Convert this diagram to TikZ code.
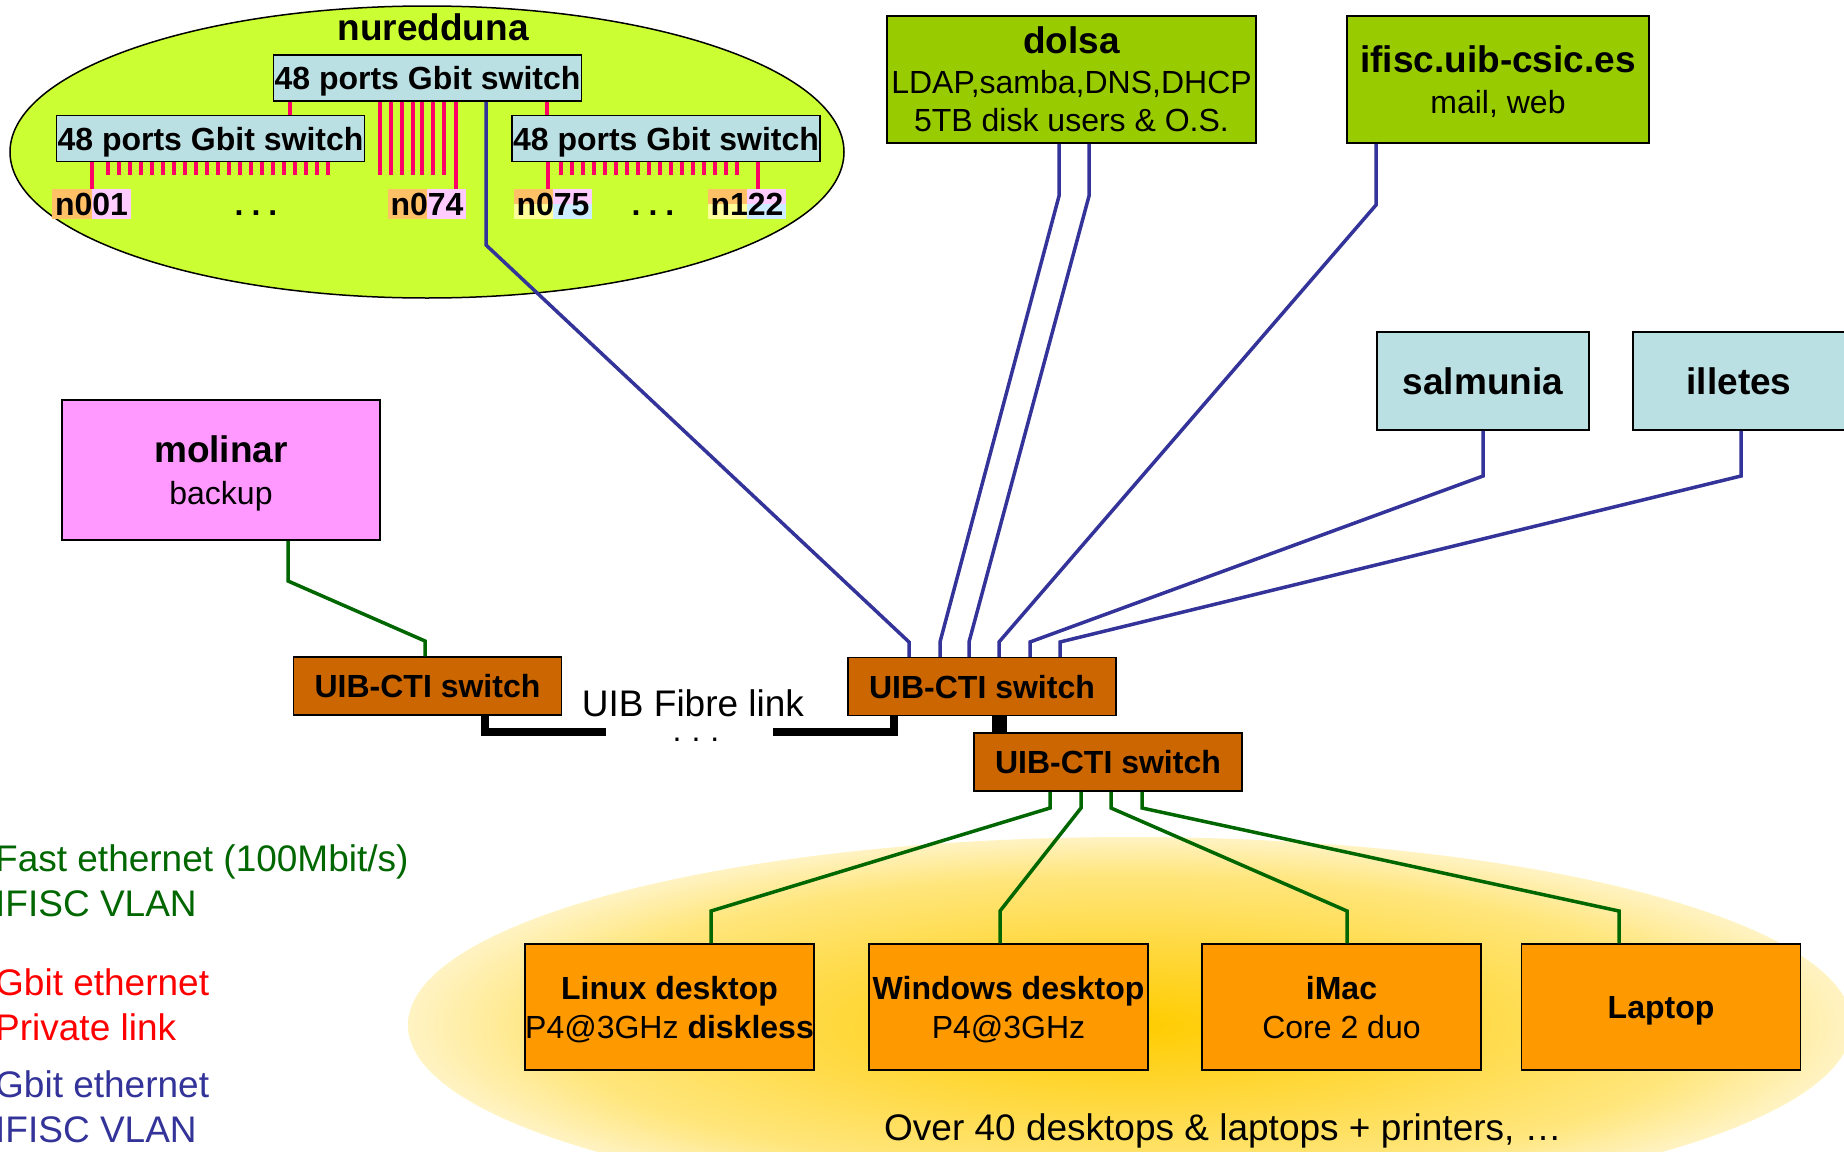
\documentclass[tikz,border=0pt]{standalone}
\usepackage{fontspec}
\setmainfont{Liberation Sans}
\usetikzlibrary{shapes.geometric}
\usepackage{xcolor}
\definecolor{clustergreen}{RGB}{204,255,51}
\definecolor{switchblue}{RGB}{187,224,227}
\definecolor{servergreen}{RGB}{153,204,0}
\definecolor{backuppink}{RGB}{255,153,255}
\definecolor{ctibrown}{RGB}{204,102,0}
\definecolor{pcorange}{RGB}{255,153,0}
\definecolor{gbitblue}{RGB}{51,51,153}
\definecolor{fastgreen}{RGB}{0,102,0}
\definecolor{privred}{RGB}{255,0,102}
\definecolor{labelorange}{RGB}{255,192,102}
\definecolor{labelpink}{RGB}{255,204,255}
\definecolor{labelyellow}{RGB}{255,255,153}
\definecolor{labelblue}{RGB}{204,236,255}
\definecolor{glowgold}{RGB}{255,204,0}
\definecolor{glowmid}{RGB}{255,216,60}
\definecolor{glowlight}{RGB}{255,230,125}
\definecolor{glowpale}{RGB}{255,243,195}
\pgfdeclareradialshading{glow}{\pgfpoint{0bp}{0bp}}{%
  color(0bp)=(glowgold); color(10bp)=(glowmid); color(20bp)=(glowlight);
  color(25bp)=(glowpale); color(50bp)=(glowpale)}

\begin{document}
\begin{tikzpicture}[x=1pt,y=-1pt]
  \tikzset{
    cluster/.style={
      ellipse,
      draw,
      line width=1.5pt,
      fill=clustergreen,
      minimum width=834pt,
      minimum height=292pt,
      inner sep=0pt
    },
    gswitch/.style={
      draw,
      line width=1.5pt,
      fill=switchblue,
      minimum width=308pt,
      minimum height=46pt,
      inner sep=0pt,
      text depth=-1pt,
      font=\fontsize{32}{38}\selectfont\bfseries
    },
    nlabel/.style={
      fill=labelorange,
      inner xsep=3pt,
      inner ysep=0pt,
      minimum height=30pt,
      text depth=-3pt,
      font=\fontsize{32}{38}\selectfont\bfseries
    },
    twotone/.style={
      nlabel,
      path picture={
        \fill[labelpink] (path picture bounding box.south) rectangle (path picture bounding box.north east);
      }
    },
    fourtone/.style={
      nlabel,
      path picture={
        \fill[labelyellow] (path picture bounding box.south west) rectangle (path picture bounding box.center);
        \fill[labelpink] (path picture bounding box.center) rectangle (path picture bounding box.north east);
        \fill[labelblue] (path picture bounding box.south) rectangle (path picture bounding box.east);
      }
    },
    server/.style={
      draw,
      line width=1.5pt,
      align=center,
      inner sep=0pt,
      text depth=-11pt,
      font=\fontsize{32}{38}\selectfont
    },
    ctiswitch/.style={
      draw,
      line width=1.5pt,
      fill=ctibrown,
      minimum width=268pt,
      minimum height=58pt,
      text depth=-2pt,
      font=\fontsize{32}{38}\selectfont\bfseries
    },
    desktop/.style={
      draw,
      line width=1.5pt,
      fill=pcorange,
      minimum width=279pt,
      minimum height=126pt,
      inner sep=0pt,
      align=center,
      text depth=-10pt,
      font=\fontsize{32}{39}\selectfont
    },
    headline/.style={
      font=\fontsize{37}{44}\selectfont\bfseries
    },
    caption/.style={
      font=\fontsize{37}{44}\selectfont
    },
    legend/.style={
      anchor=west,
      align=left,
      inner sep=0pt,
      font=\fontsize{37}{45}\selectfont
    },
    privlink/.style={privred, line width=3.5pt},
    gbitlink/.style={gbitblue, line width=3.5pt},
    fastlink/.style={fastgreen, line width=3.5pt},
    fibre/.style={black, line width=8pt}
  }
  \useasboundingbox (0,0) rectangle (1844,1151);

  % Glow behind the desktops
  \shade[shading=glow] (1130,1025) ellipse [x radius=722pt, y radius=188pt];

  % Cluster
  \node[cluster] (nuredduna) at (427,152) {};
  \node[headline] (clustername) at (433,27) {nuredduna};
  \node[gswitch] (gswT) at (427.5,78) {48 ports Gbit switch};
  \node[gswitch] (gswL) at (210.5,138.5) {48 ports Gbit switch};
  \node[gswitch] (gswR) at (666,138.5) {48 ports Gbit switch};

  \node[twotone] (n001) at (91.5,204) {n001};
  \node[twotone] (n074) at (427,204) {n074};
  \node[fourtone] (n075) at (553,204) {n075};
  \node[fourtone] (n122) at (747,204) {n122};
  \node[font=\fontsize{32}{38}\selectfont\bfseries] (dotsL) at (256,213) {.\kern8pt.\kern8pt.};
  \node[font=\fontsize{32}{38}\selectfont\bfseries] (dotsR) at (653,213) {.\kern8pt.\kern8pt.};

  % Private links inside the cluster
  \draw[privlink] (gswT.south -| 290,0) -- (gswL.north -| 290,0);
  \draw[privlink] (gswT.south -| 547,0) -- (gswR.north -| 547,0);
  \draw[privlink] (gswL.south -| 92,0) -- (n001.north -| 92,0);
  \draw[privlink] (gswT.south -| 456,0) -- (n074.north -| 456,0);
  \draw[privlink] (gswR.south -| 548,0) -- (n075.north -| 548,0);
  \draw[privlink] (gswR.south -| 758,0) -- (n122.north -| 758,0);
  \foreach \x in {108,119,...,335}
    \draw[privlink] (gswL.south -| \x,0) -- (\x,175);
  \foreach \x in {380,391,402,413,422,433,444}
    \draw[privlink] (gswT.south -| \x,0) -- (\x,175);
  \foreach \x in {561,572,...,743}
    \draw[privlink] (gswR.south -| \x,0) -- (\x,175);

  % Servers
  \node[server, fill=servergreen, minimum width=369pt, minimum height=127pt] (dolsa) at (1071.5,79.5)
    {{\fontsize{37}{44}\selectfont\bfseries dolsa}\\[2pt]LDAP,samba,DNS,DHCP\\5TB disk users \& O.S.};
  \node[server, fill=servergreen, minimum width=302pt, minimum height=127pt] (ifisc) at (1498,79.5)
    {{\fontsize{37}{44}\selectfont\bfseries ifisc.uib-csic.es}\\[3pt]mail, web};
  \node[server, fill=switchblue, minimum width=212pt, minimum height=98pt] (salmunia) at (1483,381)
    {{\fontsize{37}{44}\selectfont\bfseries salmunia}};
  \node[server, fill=switchblue, minimum width=212pt, minimum height=98pt] (illetes) at (1739,381)
    {{\fontsize{37}{44}\selectfont\bfseries illetes}};
  \node[server, fill=backuppink, minimum width=318pt, minimum height=140pt] (molinar) at (221,470)
    {{\fontsize{37}{44}\selectfont\bfseries molinar}\\[4pt]backup};

  % UIB-CTI switches
  \node[ctiswitch] (ctiL) at (427.5,686) {UIB-CTI switch};
  \node[ctiswitch] (ctiM) at (982,686.5) {UIB-CTI switch};
  \node[ctiswitch] (ctiB) at (1108,762) {UIB-CTI switch};
  \node[caption] (fibrename) at (693,703) {UIB Fibre link};
  \node[font=\fontsize{32}{38}\selectfont] (fibredots) at (696,740) {.\kern10pt.\kern10pt.};

  % Fibre link
  \draw[fibre] (ctiL.south -| 485,0) -- (485,732) -- (606,732);
  \draw[fibre] (773,732) -- (894,732) -- (ctiM.south -| 894,0);
  \draw[fibre, line width=15pt] (ctiM.south -| 999,0) -- (ctiB.north -| 999,0);

  % Gbit IFISC VLAN
  \draw[gbitlink] (gswT.south -| 486,0) -- (486,245) -- (909,642) -- (ctiM.north -| 909,0);
  \draw[gbitlink] (dolsa.south -| 1059,0) -- (1059,196) -- (940,642) -- (ctiM.north -| 940,0);
  \draw[gbitlink] (dolsa.south -| 1089,0) -- (1089,196) -- (969,642) -- (ctiM.north -| 969,0);
  \draw[gbitlink] (ifisc.south -| 1376,0) -- (1376,205) -- (999,642) -- (ctiM.north -| 999,0);
  \draw[gbitlink] (salmunia.south -| 1483,0) -- (1483,476) -- (1030,642) -- (ctiM.north -| 1030,0);
  \draw[gbitlink] (illetes.south -| 1741,0) -- (1741,476) -- (1060,642) -- (ctiM.north -| 1060,0);

  % Desktops
  \node[desktop] (linux) at (669.5,1007) {\textbf{Linux desktop}\\P4@3GHz \textbf{diskless}};
  \node[desktop] (windows) at (1008.5,1007) {\textbf{Windows desktop}\\P4@3GHz};
  \node[desktop] (imac) at (1341.5,1007) {\textbf{iMac}\\Core 2 duo};
  \node[desktop] (laptop) at (1661,1007) {\textbf{Laptop}};
  \node[caption] (crowd) at (1223,1131) {Over 40 desktops \& laptops + printers, …};

  % Fast ethernet
  \draw[fastlink] (molinar.south -| 288,0) -- (288,581) -- (425,641) -- (ctiL.north -| 425,0);
  \draw[fastlink] (ctiB.south -| 1050,0) -- (1050,808) -- (711,911) -- (linux.north -| 711,0);
  \draw[fastlink] (ctiB.south -| 1081,0) -- (1081,808) -- (1000,911) -- (windows.north -| 1000,0);
  \draw[fastlink] (ctiB.south -| 1111,0) -- (1111,808) -- (1347,911) -- (imac.north -| 1347,0);
  \draw[fastlink] (ctiB.south -| 1142,0) -- (1142,808) -- (1619,911) -- (laptop.north -| 1619,0);

  % Legend
  \node[legend, text=fastgreen] (fastkey) at (-5,880.5) {Fast ethernet (100Mbit/s)\\IFISC VLAN};
  \node[legend, text=red] (privkey) at (-5,1004.5) {Gbit ethernet\\Private link};
  \node[legend, text=gbitblue] (gbitkey) at (-5,1106.5) {Gbit ethernet\\IFISC VLAN};

\end{tikzpicture}
\end{document}
